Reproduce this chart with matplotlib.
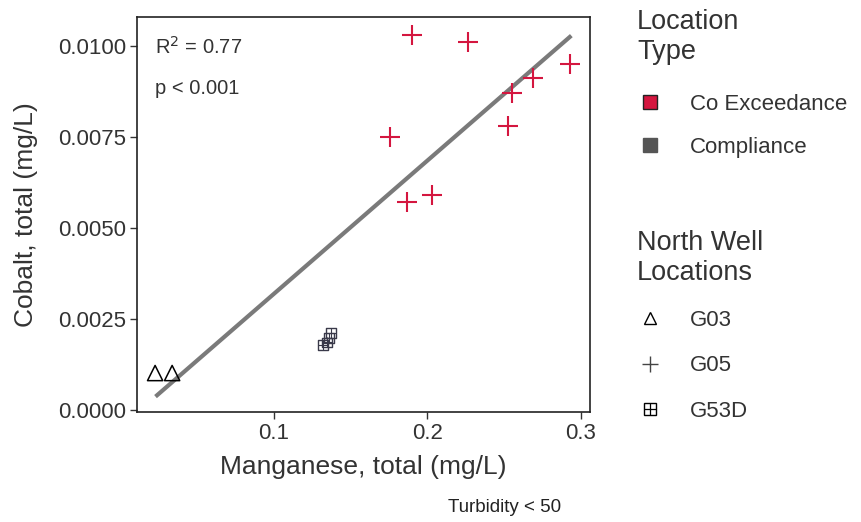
import numpy as np
import matplotlib
matplotlib.use("Agg")
import matplotlib.pyplot as plt
from matplotlib.lines import Line2D

plt.rcParams['font.family'] = ['Liberation Sans', 'DejaVu Sans']

# data
g03_mn = [0.0225, 0.0336]
g03_co = [0.00102, 0.00102]
g05_mn = [0.190, 0.2264, 0.2928, 0.2687, 0.2550, 0.1756, 0.2524, 0.1866, 0.2029]
g05_co = [0.01030, 0.01011, 0.00951, 0.00912, 0.00871, 0.00750, 0.00780, 0.00571, 0.00591]
g53_mn = [0.1319, 0.1345, 0.1358, 0.1371]
g53_co = [0.00179, 0.00186, 0.00198, 0.00212]

# fitted line as shown in the chart
fit_slope = 0.03658
fit_intercept = -0.00046
fit_range = [0.0238, 0.2928]

x_ticks = [0.1, 0.2, 0.3]
y_ticks = [0.0, 0.0025, 0.005, 0.0075, 0.01]
y_labels = ["0.0000", "0.0025", "0.0050", "0.0075", "0.0100"]

red = '#d4163f'
dark = '#3a3a4a'
txt = '#333333'

fig = plt.figure(figsize=(8.62, 5.22), dpi=100)
ax = fig.add_axes([137/862, 1 - 412/522, (590-137)/862, (412-17)/522])

xs = np.array(fit_range)
ax.plot(xs, fit_intercept + fit_slope * xs, color='#7a7a7a', lw=3, zorder=1)

ax.scatter(g03_mn, g03_co, marker='^', s=120, facecolors='none', edgecolors='black', linewidths=1.1, zorder=3)
ax.scatter(g05_mn, g05_co, marker='+', s=220, color=red, linewidths=1.5, zorder=3)
ax.scatter(g53_mn, g53_co, marker='s', s=45, facecolors='none', edgecolors=dark, linewidths=1.0, zorder=3)
ax.scatter(g53_mn, g53_co, marker='+', s=45, color=dark, linewidths=0.8, zorder=3)

ax.set_xlim(0.0107, 0.306)
ax.set_ylim(-0.00005, 0.0108)
ax.set_xticks(x_ticks)
ax.set_xticklabels([str(t) for t in x_ticks])
ax.set_yticks(y_ticks)
ax.set_yticklabels(y_labels)
ax.tick_params(labelsize=16, length=5, width=1, color=txt, labelcolor=txt, pad=3)
for s in ax.spines.values():
    s.set_linewidth(1.2)
    s.set_color('#222222')

ax.set_xlabel("Manganese, total (mg/L)", fontsize=19, color=txt, labelpad=8)
ax.set_ylabel("Cobalt, total (mg/L)", fontsize=19, color=txt, labelpad=14)

ax.text(0.04, 0.925, "R$^2$ = 0.77", transform=ax.transAxes, fontsize=14.5, color=txt, va='center')
ax.text(0.04, 0.82, "p < 0.001", transform=ax.transAxes, fontsize=14.5, color=txt, va='center')

fig.text(505/862, 1 - 508/522, "Turbidity < 50", fontsize=13.5, color='#222222', ha='center', va='center')

# legends: titles as plain text, entries as legends
fig.text(637/862, 1 - 9/522, "Location\nType", fontsize=19.5, color=txt, ha='left', va='top')
fig.text(637/862, 1 - 230/522, "North Well\nLocations", fontsize=19.5, color=txt, ha='left', va='top')

leg_kw = dict(loc='upper left', frameon=False, fontsize=16,
              handlelength=1.2, handletextpad=1.2, borderpad=0.0,
              borderaxespad=0.0, labelcolor=txt)

h1 = [Line2D([], [], marker='s', ls='none', markersize=10, markerfacecolor=red, markeredgecolor='#222222'),
      Line2D([], [], marker='s', ls='none', markersize=10, markerfacecolor='#555555', markeredgecolor='#555555')]
fig.legend(h1, ["Co Exceedance", "Compliance"],
           bbox_to_anchor=(637/862, 1 - 94/522), labelspacing=1.0, **leg_kw)

g53_sq = Line2D([], [], marker='s', ls='none', markersize=8, markerfacecolor='none', markeredgecolor='black')
g53_pl = Line2D([], [], marker='+', ls='none', markersize=8, color='black', markeredgewidth=0.9)
h2 = [Line2D([], [], marker='^', ls='none', markersize=9, markerfacecolor='none', markeredgecolor='black'),
      Line2D([], [], marker='+', ls='none', markersize=12, color='#444444'),
      (g53_sq, g53_pl)]
fig.legend(h2, ["G03", "G05", "G53D"],
           bbox_to_anchor=(637/862, 1 - 310/522), labelspacing=1.1, **leg_kw)

fig.savefig("out.png", dpi=100)
